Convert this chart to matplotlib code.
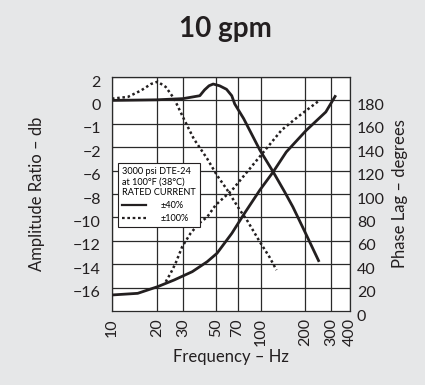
import numpy as np
import matplotlib
matplotlib.use("Agg")
import matplotlib.pyplot as plt
from matplotlib.lines import Line2D
from matplotlib.transforms import ScaledTranslation

plt.rcParams['font.family'] = ['Lato', 'DejaVu Sans']

# amplitude axis: the printed scale is not linear, so labels sit on fixed grid rows
amp_tick_db = [-16, -14, -12, -10, -8, -6, -2, -1, 0, 2]
amp_tick_labels = ["−16", "−14", "−12", "−10", "−8", "−6", "−2", "−1", "0", "2"]
amp_tick_pos = [20, 40, 60, 80, 100, 120, 140, 160, 180, 200]

phase_ticks = [0, 20, 40, 60, 80, 100, 120, 140, 160, 180]
freq_ticks = [10, 20, 30, 50, 70, 100, 200, 300, 400]

# amplitude, +-40% input (solid)
amp40_f = [10, 20, 30, 39, 42, 45, 48, 53, 59, 64, 67, 77, 99, 121.5, 145, 165, 200, 248]
amp40_db = [0, 0.05, 0.15, 0.4, 0.9, 1.25, 1.4, 1.25, 0.95, 0.4, -0.15, -0.78, -2.5,
            -6.1, -7.8, -9.1, -11.3, -13.8]

# amplitude, +-100% input (dotted)
amp100_f = [10, 12.8, 15.7, 18.3, 20.3, 23, 26.2, 30.5, 35.6, 43.7, 50.9, 59.3, 72.8,
            80.7, 99, 115, 128]
amp100_db = [0.15, 0.3, 0.85, 1.4, 1.6, 1.15, 0.15, -0.8, -1.65, -3.95, -6.4, -7.6,
             -9.4, -10.2, -12.1, -13.4, -14.5]

# phase lag, +-40% (solid)
ph40_f = [10, 14.9, 20.3, 26.2, 34.7, 43.7, 50.9, 64.1, 76.7, 99, 121.5, 149, 203, 275, 321]
ph40_deg = [13.7, 15.1, 20.8, 26.5, 33.6, 42.1, 49.3, 66.4, 82.1, 103.4, 118.8, 135.9,
            154.4, 170.1, 184.4]

# phase lag, +-100% (dotted)
ph100_f = [23, 24.8, 26.8, 29.7, 33.8, 38.6, 43.7, 49.9, 64.4, 83.2, 107.5, 138.7, 179, 251]
ph100_deg = [25, 32.2, 40.8, 55, 66.4, 75, 80.3, 90.6, 103.4, 120.5, 137.6, 154.7, 166.1, 180.3]

bg = '#e6e7e8'
ink = '#231f20'
grid_c = '#2a2a2a'

fig = plt.figure(figsize=(4.25, 3.85), dpi=100, facecolor=bg)
ax = fig.add_axes([0.2635, 0.1922, 0.56, 0.6078])
ax.set_facecolor('white')
ax.set_xscale('log')
ax.set_xlim(10, 400)
ax.set_ylim(0, 200)

ax.set_xticks(freq_ticks)
ax.set_xticklabels([str(f) for f in freq_ticks], rotation=90, fontsize=11.5, color=ink)
ax.xaxis.set_minor_locator(matplotlib.ticker.NullLocator())
ax.set_yticks(amp_tick_pos)
ax.set_yticklabels(amp_tick_labels, fontsize=11.5, color=ink)
ax.tick_params(axis='both', length=0)
ax.tick_params(axis='y', pad=8)
ax.tick_params(axis='x', pad=5)
ax.grid(True, color=grid_c, linewidth=0.9)
for s in ax.spines.values():
    s.set_color(grid_c)
    s.set_linewidth(0.9)

ax.set_xlabel("Frequency – Hz", fontsize=12, color=ink, labelpad=2)
ax.set_ylabel("Amplitude Ratio – db", fontsize=12, color=ink, labelpad=20)

ax2 = ax.twinx()
ax2.set_ylim(0, 200)
ax2.set_yticks(phase_ticks)
ax2.set_yticklabels([str(p) for p in phase_ticks], fontsize=11.5, color=ink)
ax2.tick_params(axis='y', length=0, pad=5)
ax2.set_ylabel("Phase Lag – degrees", fontsize=12, color=ink, labelpad=5)
for s in ax2.spines.values():
    s.set_visible(False)

shift = ScaledTranslation(0, -3 / 72, fig.dpi_scale_trans)
for lab in ax.get_yticklabels() + ax2.get_yticklabels():
    lab.set_transform(lab.get_transform() + shift)

dot = (0, (1, 1.1))
ax.plot(amp40_f, np.interp(amp40_db, amp_tick_db, amp_tick_pos), color=ink, lw=2.0,
        solid_capstyle='butt')
ax.plot(amp100_f, np.interp(amp100_db, amp_tick_db, amp_tick_pos), color=ink, lw=1.8,
        linestyle=dot)
ax2.plot(ph40_f, ph40_deg, color=ink, lw=2.0, solid_capstyle='butt')
ax2.plot(ph100_f, ph100_deg, color=ink, lw=1.8, linestyle=dot)

handles = [Line2D([], [], color=ink, lw=1.6),
           Line2D([], [], color=ink, lw=1.6, linestyle=(0, (1.2, 1.2)))]
leg = ax2.legend(handles, ["±40%", "±100%"],
                 title="3000 psi DTE-24\nat 100°F (38°C)\nRATED CURRENT",
                 title_fontsize=6.6, fontsize=6.6, alignment='left',
                 loc='upper left', bbox_to_anchor=(0.025, 0.632),
                 fancybox=False, edgecolor=ink, framealpha=1,
                 handlelength=2.6, handletextpad=1.6, borderpad=0.45,
                 labelspacing=0.45, borderaxespad=0)
leg.get_frame().set_linewidth(0.8)
leg.set_zorder(5)

fig.text(0.53, 0.904, "10 gpm", fontsize=20, fontweight='bold', color=ink,
         ha='center', va='baseline')

fig.savefig("out.png", dpi=100, facecolor=bg)
